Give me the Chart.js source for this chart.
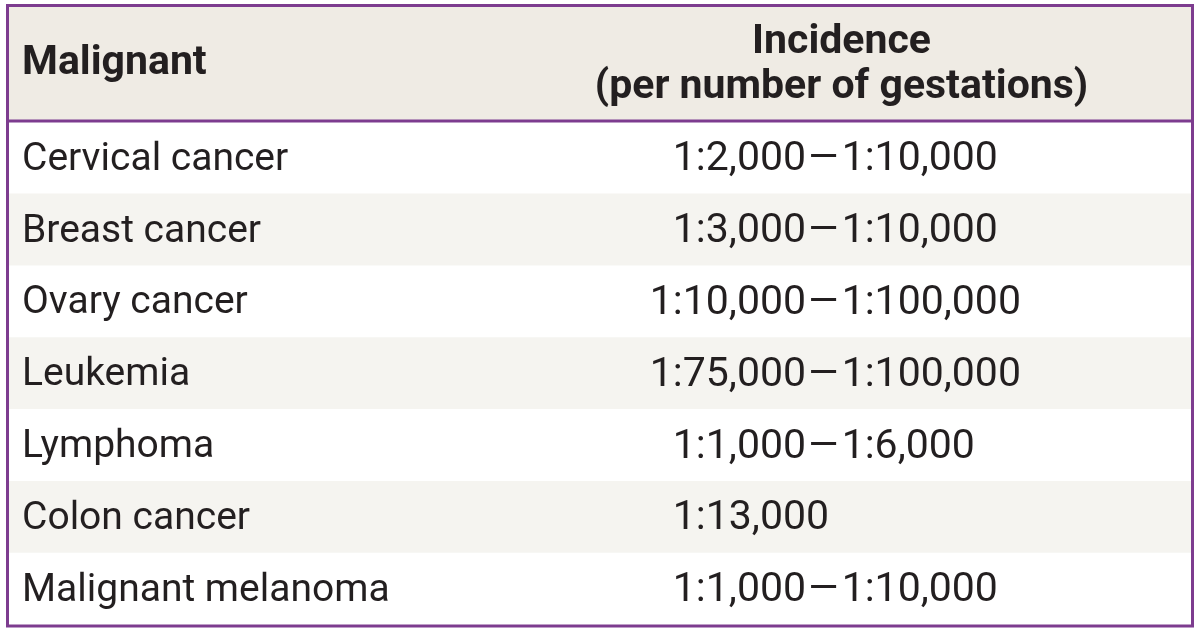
<!DOCTYPE html>
<html>
<head>
<meta charset="utf-8">
<script src="https://cdn.jsdelivr.net/npm/chart.js@4"></script>
<style>
  html, body { margin: 0; padding: 0; background: #fff; }
  #wrap { width: 1200px; height: 632px; position: relative; }
</style>
</head>
<body>
<div id="wrap"><canvas id="tbl"></canvas></div>
<script>
    // table content
    var headMalignant = 'Malignant';
    var headIncidence = ['Incidence', '(per number of gestations)'];
    var malignancies = ['Cervical cancer', 'Breast cancer', 'Ovary cancer', 'Leukemia', 'Lymphoma', 'Colon cancer', 'Malignant melanoma'];
    var incidenceFrom = ['1:2,000', '1:3,000', '1:10,000', '1:75,000', '1:1,000', '1:13,000', '1:1,000'];
    var incidenceTo = ['1:10,000', '1:10,000', '1:100,000', '1:100,000', '1:6,000', '', '1:10,000'];

    var purple = '#7d3c8f';
    var ink = '#231f20';
    var fontFam = 'Roboto, "Open Sans", sans-serif';

    var tablePlugin = {
        id: 'tablePlugin',
        beforeDraw: function (chart) {
            var ctx = chart.ctx, a = chart.chartArea;
            // header band
            ctx.save();
            ctx.fillStyle = '#efebe4';
            ctx.fillRect(a.left, 6, a.right - a.left, a.top - 6);
            ctx.restore();
        },
        afterDatasetsDraw: function (chart) {
            var ctx = chart.ctx, a = chart.chartArea;
            var xs = chart.scales.x, ys = chart.scales.y;
            var colLeft = xs.getPixelForValue(0) + 14;
            var dashX = xs.getPixelForValue(0.674);

            ctx.save();
            ctx.fillStyle = ink;
            ctx.textBaseline = 'middle';

            // header text
            ctx.font = 'bold 41px ' + fontFam;
            ctx.textAlign = 'left';
            ctx.fillText(headMalignant, colLeft, 64);
            ctx.textAlign = 'center';
            ctx.fillText(headIncidence[0], xs.getPixelForValue(0.704), 43);
            ctx.fillText(headIncidence[1], xs.getPixelForValue(0.704), 88);

            // body rows
            malignancies.forEach(function (name, i) {
                var y = ys.getPixelForValue(i) + 2;
                ctx.font = '39px ' + fontFam;
                ctx.textAlign = 'left';
                ctx.fillText(name, colLeft, y);

                ctx.font = '41px ' + fontFam;
                var dash = '\u2013';
                var dashW = ctx.measureText(dash).width;
                if (incidenceTo[i]) {
                    ctx.textAlign = 'right';
                    ctx.fillText(incidenceFrom[i], dashX, y);
                    ctx.textAlign = 'left';
                    ctx.save();
                    ctx.translate(dashX + 1, 0);
                    ctx.scale(1.25, 1);
                    ctx.fillText(dash, 0, y);
                    ctx.restore();
                    ctx.fillText(incidenceTo[i], dashX + dashW * 1.25 + 2, y);
                } else {
                    ctx.textAlign = 'left';
                    ctx.fillText(incidenceFrom[i], dashX - ctx.measureText('1:2,000').width, y);
                }
            });

            // rules and frame
            ctx.strokeStyle = purple;
            ctx.lineWidth = 3;
            ctx.beginPath();
            ctx.moveTo(a.left, a.top - 1);
            ctx.lineTo(a.right, a.top - 1);
            ctx.stroke();
            ctx.strokeRect(a.left - 0.5, 5.5, a.right - a.left + 1, a.bottom - 5 + 0.5);
            ctx.restore();
        }
    };

    new Chart(document.getElementById('tbl').getContext('2d'), {
        type: 'bar',
        data: {
            labels: malignancies,
            datasets: [{
                label: 'rows',
                data: malignancies.map(function () { return [0, 1]; }),
                backgroundColor: malignancies.map(function (m, i) { return i % 2 ? '#f5f4f0' : '#ffffff'; }),
                borderWidth: 0,
                barPercentage: 1,
                categoryPercentage: 1
            }]
        },
        options: {
            indexAxis: 'y',
            responsive: true,
            maintainAspectRatio: false,
            animation: false,
            layout: { padding: { left: 8, right: 8, top: 122, bottom: 7 } },
            plugins: {
                legend: { display: false },
                tooltip: { enabled: false }
            },
            scales: {
                x: { display: false, min: 0, max: 1 },
                y: { display: false }
            }
        },
        plugins: [tablePlugin]
    });
</script>
</body>
</html>
